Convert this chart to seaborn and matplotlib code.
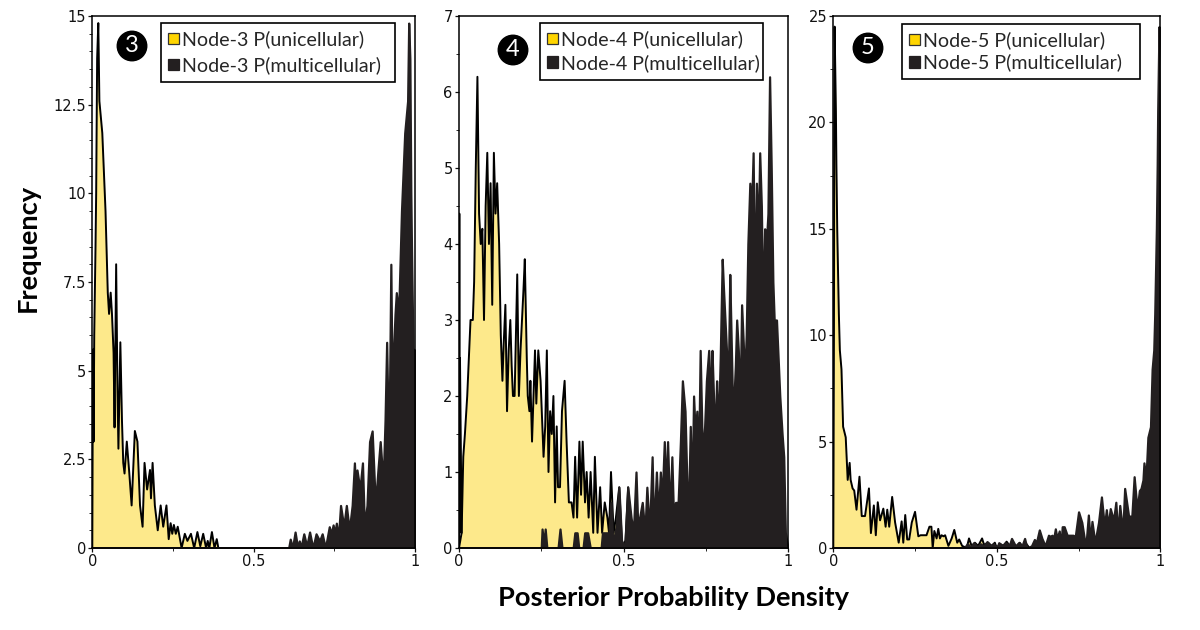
"""
Posterior probability density of the ancestral state at nodes 3, 4 and 5.
"""

import numpy as np
import matplotlib
matplotlib.use('Agg')
import matplotlib.pyplot as plt
from matplotlib.patches import Patch
from matplotlib.ticker import MultipleLocator
import seaborn as sns

# P(unicellular) outlines; P(multicellular) is the same curve mirrored at x = 1 - p
node3_x = [0, .002, .004, .006, .01, .012, .015, .0186, .022, .031, .041, .048, .052, .057, .061, .066,
           .069, .074, .078, .081, .087, .092, .096, .1, .107, .114, .122, .132, .14, .148, .156, .162,
           .17, .179, .182, .187, .194, .203, .212, .22, .23, .237, .243, .248, .253, .259, .265, .277,
           .287, .295, .306, .316, .326, .335, .344, .353, .358, .363, .371, .379, .386, .391, 1]
node3_y = [0, 5.6, 3, 6, 8.5, 10, 13.8, 14.8, 12.6, 11.7, 9.5, 7.2, 6.6, 7.2, 6.6, 5.5,
           3.4, 8.0, 4.5, 2.8, 5.8, 3.6, 2.4, 2.1, 3.0, 2.2, 1.2, 3.3, 3.0, 1.2, .6, 2.4,
           1.65, 2.2, 1.4, 2.4, 1.2, .5, 1.2, .6, 1.2, .25, .7, .4, .65, .4, .6, 0,
           .4, .2, .4, 0, .45, .05, .4, 0, .2, 0, .45, 0, .25, 0, 0]

node4_x = [0, .008, .013, .018, .025, .035, .042, .046, .051, .056, .061, .066, .071,
           .076, .081, .086, .091, .096, .101, .106, .111, .116, .122, .127, .132, .136, .141, .146, .151,
           .156, .16, .164, .169, .173, .177, .182, .187, .196, .2, .206, .209, .214, .217, .222, .228,
           .231, .235, .241, .248, .257, .262, .267, .272, .277, .282, .287, .292, .297, .301, .307, .313,
           .321, .327, .334, .342, .348, .353, .359, .366, .371, .376, .383, .388, .394, .4, .408, .413,
           .421, .429, .435, .443, .451, .456, .462, .47, .477, .487, .496, .506, .514, .522, .53, .533,
           .538, .544, .551, .564, .568, .601, .609, .618, .623, .636, .641, .648, .653, .687, .693, .699,
           .733, .738, .7424, .7475, .75, 1]
node4_y = [0, .2, 1.2, 1.5, 2, 3, 3, 3.5, 5, 6.2, 4.4, 4, 4.2,
           3, 4.5, 5.2, 4, 4.8, 3.2, 5.2, 4.4, 4.8, 4, 2.8, 2.2, 2.7, 3.2, 1.8, 2.6,
           3, 2.4, 2, 2, 2.8, 3.6, 2, 2.6, 3.4, 3.8, 2.5, 2, 1.8, 2.2, 1.4, 2.2,
           2.6, 1.9, 2.6, 2.2, 1.2, 1.6, 2.6, 1, 1.8, 1.5, 2, .6, 1.6, .8, .8, 1.8,
           2.2, 1.4, .6, .6, .4, 1.2, .4, 1.4, .7, 1.4, .6, 1, .4, 1, .2, 1.2,
           .2, .8, .2, .6, .4, .2, 1, .2, .4, .8, 0, .1, .8, .3, .1, .1,
           .6, .2, .2, .2, 0, 0, .2, .2, 0, 0, .2, .2, 0, 0, .25, 0,
           0, .25, .05, .25, 0, 0]

# dark spike against the left axis of the node 4 panel, it has no counterpart on the right
node4_edge_x = [0, .001, .002, .003, .008]
node4_edge_y = [0, 4.4, .2, 2.5, .2]

node5_x = [0, .002, .003, .004, .006, .008, .0095, .012, .017, .02, .025, .03, .038, .044, .05, .053,
           .059, .064, .071, .08, .087, .097, .109, .115, .124, .13, .136, .143, .153, .16, .165, .171,
           .18, .189, .2, .209, .214, .22, .226, .232, .24, .25, .26, .267, .285, .294, .3, .304,
           .309, .316, .321, .326, .331, .337, .342, .352, .362, .37, .379, .385, .394, .408, .415, .423,
           .433, .443, .455, .461, .474, .484, .494, .5, .51, .52, .53, .54, .55, .56, .57, .58,
           .59, .6, 1]
node5_y = [0, 10, 20, 24.5, 22.5, 20.5, 18, 15, 11, 9.3, 8.4, 5.7, 5.2, 3.2, 4, 3.2,
           2.8, 2.7, 1.8, 3.35, 1.5, 1.5, 2.8, .7, 2, .6, 2.15, 1.3, 1.85, 1, 1.8, 1,
           2.4, 1.2, .25, 1.25, .25, 1.55, .4, .4, 1.2, 1.7, .55, .6, .6, 1, 1, 0,
           .8, .45, .9, .45, .6, .55, .6, .1, .45, .85, .25, .4, .1, 0, .45, .1,
           .25, .1, .45, .15, .25, .1, .25, 0, .2, .1, .3, .1, .2, .05, .25, .05,
           .2, 0, 0]

node_names = ['Node-3', 'Node-4', 'Node-5']
badge_labels = ['3', '4', '5']
y_maxes = [15, 7, 25]
y_ticks = [[0, 2.5, 5, 7.5, 10, 12.5, 15], [0, 1, 2, 3, 4, 5, 6, 7], [0, 5, 10, 15, 20, 25]]
y_tick_labels = [['0', '2.5', '5', '7.5', '10', '12.5', '15'],
                 ['0', '1', '2', '3', '4', '5', '6', '7'],
                 ['0', '5', '10', '15', '20', '25']]
x_ticks = [0, 0.5, 1]
x_tick_labels = ['0', '0.5', '1']

YELLOW_FILL = '#FDE98B'
YELLOW_KEY = '#FFD500'
DARK = '#231F20'
W, H = 1200, 630

sns.set_theme(style='ticks')
plt.rcParams['font.family'] = ['Lato', 'DejaVu Sans']


def px_axes(fig, left, right, top, bottom):
    return fig.add_axes([left / W, 1 - bottom / H, (right - left) / W, (bottom - top) / H])


def draw_node(ax, x, y, i, minor_step, box, badge_xy, spacing):
    x = np.array(x)
    y = np.array(y)
    mx = 1 - x[::-1]
    my = y[::-1]

    ax.fill_between(x, y, color=YELLOW_FILL, lw=0, zorder=1)
    sns.lineplot(x=x, y=y, color='black', lw=1.4, estimator=None, errorbar=None, ax=ax, zorder=2)
    ax.fill_between(mx, my, color=DARK, lw=1.6, edgecolor=DARK, zorder=3)

    ax.set_xlim(0, 1)
    ax.set_ylim(0, y_maxes[i])
    ax.set_xticks(x_ticks, x_tick_labels)
    ax.set_yticks(y_ticks[i], y_tick_labels[i])
    ax.xaxis.set_minor_locator(MultipleLocator(0.25))
    ax.yaxis.set_minor_locator(MultipleLocator(minor_step))
    ax.tick_params(axis='both', which='major', length=3, width=0.9, labelsize=10.5, pad=1.5, colors='#111111')
    for lab in ax.get_xticklabels() + ax.get_yticklabels():
        lab.set_family('DejaVu Sans')
    ax.tick_params(axis='both', which='minor', length=2, width=0.7)
    ax.set_xlabel('')
    ax.set_ylabel('')
    for side in ax.spines.values():
        side.set_visible(True)
        side.set_linewidth(1.1)
        side.set_color('black')
        side.set_zorder(5)

    # legend box given in pixels: left, right, top
    left, right, top = box
    handles = [Patch(facecolor=YELLOW_KEY, edgecolor='#333333', lw=0.9),
               Patch(facecolor=DARK, edgecolor=DARK, lw=0.9)]
    labels = [node_names[i] + ' P(unicellular)', node_names[i] + ' P(multicellular)']
    leg = ax.legend(handles, labels, loc='upper left', mode='expand',
                    bbox_to_anchor=(left / W, 1 - top / H - 0.01, (right - left) / W, 0.01),
                    bbox_transform=ax.figure.transFigure, fontsize=14.1, frameon=True, fancybox=False,
                    framealpha=1, edgecolor='black', borderpad=0.38, borderaxespad=0,
                    handlelength=0.55, handleheight=0.55, handletextpad=0.15, labelspacing=spacing)
    leg.get_frame().set_linewidth(1.2)
    leg.set_zorder(6)

    ax.figure.text(badge_xy[0] / W, 1 - badge_xy[1] / H, badge_labels[i], color='white', fontsize=17,
                   ha='center', va='center',
                   bbox=dict(boxstyle='circle,pad=0.18', fc='black', ec='black'))


fig = plt.figure(figsize=(W / 100, H / 100), dpi=100, facecolor='white')

ax3 = px_axes(fig, 92.3, 414.7, 16, 548)
ax4 = px_axes(fig, 459, 788, 16, 548)
ax5 = px_axes(fig, 833.3, 1160.3, 16, 548)

draw_node(ax3, node3_x, node3_y, 0, 0.5, (160.5, 395, 23), (132, 46), 0.42)
draw_node(ax4, node4_x, node4_y, 1, 0.5, (540, 763, 23), (513, 50), 0.3)
draw_node(ax5, node5_x, node5_y, 2, 2.5, (902, 1140, 24), (868, 48), 0.22)
sns.lineplot(x=node4_edge_x, y=node4_edge_y, color='black', lw=1.4, estimator=None, errorbar=None, ax=ax4, zorder=4)
ax4.set_xlabel('')
ax4.set_ylabel('')

fig.text(28 / W, 1 - 248 / H, 'Frequency', rotation=90, ha='center', va='center',
         fontsize=19.6, fontweight='bold', color='black')
fig.text(674 / W, 1 - 598 / H, 'Posterior Probability Density', ha='center', va='center',
         fontsize=19.6, fontweight='bold', color='black')

fig.savefig('out.png', dpi=100)
